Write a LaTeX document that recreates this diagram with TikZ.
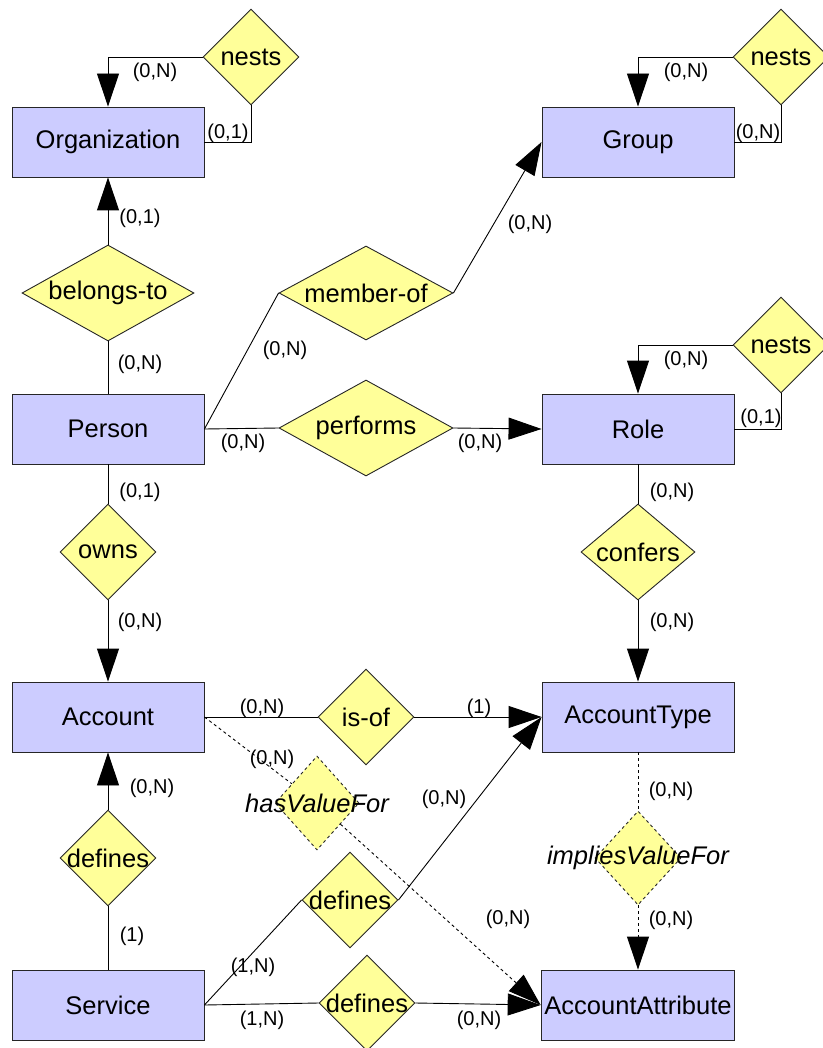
\documentclass[tikz,border=0pt]{standalone}
\usepackage{fontspec}
\setmainfont{Liberation Sans}
\usetikzlibrary{shapes.geometric, arrows.meta}
\definecolor{entfill}{RGB}{204,204,255}
\definecolor{relfill}{RGB}{255,255,153}

\begin{document}
\begin{tikzpicture}[x=1pt, y=-1pt, line width=0.9pt,
    font=\fontsize{25.5}{30}\selectfont,
    entity/.style={draw=black!85, fill=entfill, minimum width=192pt, minimum height=70pt},
    relation/.style={diamond, draw=black!85, fill=relfill, inner sep=0pt, minimum width=96pt, minimum height=96pt},
    card/.style={font=\fontsize{20}{24}\selectfont, inner sep=1pt},
    link/.style={-{Triangle[length=33pt, width=22pt]}},
    weak/.style={dash pattern=on 3pt off 3pt}]
    \useasboundingbox (0,0) rectangle (822,1048);

    % entities
    \node[entity] (org) at (108,142) {Organization};
    \node[entity] (group) at (638,142) {Group};
    \node[entity] (person) at (108,429) {Person};
    \node[entity] (role) at (638,429) {Role};
    \node[entity] (account) at (108,717) {Account};
    \node[entity] (acctype) at (638,717) {AccountType};
    \node[entity] (service) at (108,1005) {Service};
    \node[entity] (accattr) at (638,1005) {AccountAttribute};

    % relationships
    \node[relation, label=center:nests] (nestsO) at (251,57) {};
    \node[relation, label=center:nests] (nestsG) at (781,57) {};
    \node[relation, label=center:nests] (nestsR) at (781,345) {};
    \node[relation, minimum width=172pt, label=center:belongs-to] (belongs) at (108,293) {};
    \node[relation, minimum width=174pt, minimum height=94pt, label=center:member-of] (memberof) at (366,293) {};
    \node[relation, minimum width=174pt, label=center:performs] (performs) at (366,428) {};
    \node[relation, label=center:owns] (owns) at (108,552) {};
    \node[relation, minimum width=114pt, label=center:confers] (confers) at (638,552) {};
    \node[relation, label=center:is-of] (isof) at (366,717) {};
    \node[relation, weak, minimum width=84pt, minimum height=94pt, label={center:{\itshape hasValueFor}}] (hasvalue) at (317,803) {};
    \node[relation, weak, minimum width=86pt, minimum height=94pt, label={center:{\itshape impliesValueFor}}] (implies) at (638,858) {};
    \node[relation, label=center:defines] (defA) at (108,858) {};
    \node[relation, label=center:defines] (defB) at (350,900) {};
    \node[relation, label=center:defines] (defC) at (367,1003) {};

    % connectors
    \draw[link] (nestsO.west) -| (org.north);
    \draw (nestsO.south) |- (org.east);
    \draw[link] (nestsG.west) -| (group.north);
    \draw (nestsG.south) |- (group.east);
    \draw[link] (nestsR.west) -| (role.north);
    \draw (nestsR.south) |- (role.east);
    \draw (person.north) -- (belongs.south);
    \draw[link] (belongs.north) -- (org.south);
    \draw (person.east) -- (memberof.west);
    \draw[link] (memberof.east) -- (group.west);
    \draw (person.east) -- (performs.west);
    \draw[link] (performs.east) -- (role.west);
    \draw (person.south) -- (owns.north);
    \draw[link] (owns.south) -- (account.north);
    \draw (role.south) -- (confers.north);
    \draw[link] (confers.south) -- (acctype.north);
    \draw (account.east) -- (isof.west);
    \draw[link] (isof.east) -- (acctype.west);
    \draw[weak] (account.east) -- (hasvalue);
    \draw[weak, link] (hasvalue) -- (accattr.west);
    \draw[weak] (acctype.south) -- (implies.north);
    \draw[weak, link] (implies.south) -- (accattr.north);
    \draw (service.north) -- (defA.south);
    \draw[link] (defA.north) -- (account.south);
    \draw (service.east) -- (defB.west);
    \draw[link] (defB.east) -- (acctype.west);
    \draw (service.east) -- (defC.west);
    \draw[link] (defC.east) -- (accattr.west);

    % cardinalities
    \node[card] (cOrgN) at (155,72) {(0,N)};
    \node[card] (cOrg1) at (228,133) {(0,1)};
    \node[card] (cGrpA) at (686,72) {(0,N)};
    \node[card] (cGrpB) at (758,133) {(0,N)};
    \node[card] (cRolN) at (686,360) {(0,N)};
    \node[card] (cRol1) at (761,418) {(0,1)};
    \node[card] (cBelO) at (140,218) {(0,1)};
    \node[card] (cBelP) at (140,364) {(0,N)};
    \node[card] (cMemP) at (285,350) {(0,N)};
    \node[card] (cMemG) at (530,224) {(0,N)};
    \node[card] (cPerP) at (243,443) {(0,N)};
    \node[card] (cPerR) at (480,443) {(0,N)};
    \node[card] (cOwnP) at (140,492) {(0,1)};
    \node[card] (cOwnA) at (140,622) {(0,N)};
    \node[card] (cConR) at (672,492) {(0,N)};
    \node[card] (cConT) at (672,622) {(0,N)};
    \node[card] (cIsA) at (262,708) {(0,N)};
    \node[card] (cIsT) at (479,708) {(1)};
    \node[card] (cHasA) at (272,759) {(0,N)};
    \node[card] (cHasX) at (508,919) {(0,N)};
    \node[card] (cImpT) at (671,791) {(0,N)};
    \node[card] (cImpX) at (671,920) {(0,N)};
    \node[card] (cDefAA) at (152,788) {(0,N)};
    \node[card] (cDefAS) at (132,936) {(1)};
    \node[card] (cDefBT) at (444,799) {(0,N)};
    \node[card] (cDefBS) at (253,967) {(1,N)};
    \node[card] (cDefCS) at (262,1020) {(1,N)};
    \node[card] (cDefCX) at (479,1020) {(0,N)};
\end{tikzpicture}
\end{document}
